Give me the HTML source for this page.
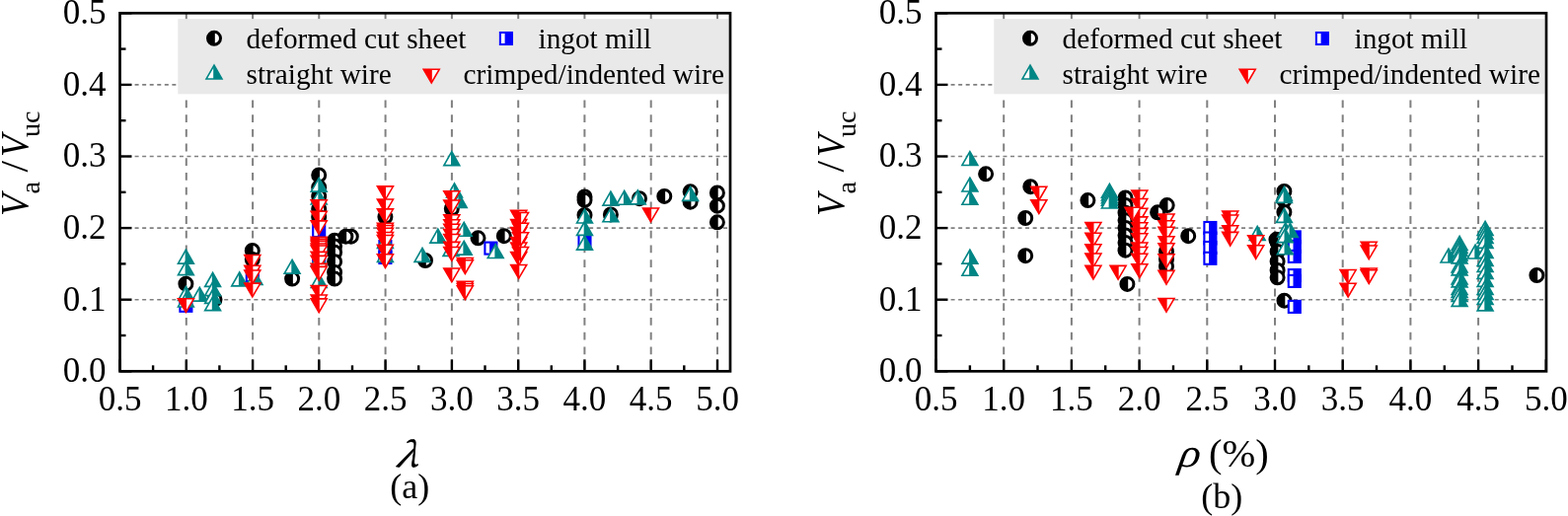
<!DOCTYPE html>
<html><head><meta charset="utf-8"><title>Va/Vuc vs lambda and rho</title>
<style>
html,body{margin:0;padding:0;background:#fff;}
body{width:1589px;height:523px;overflow:hidden;}
svg{display:block;}
text{font-family:"Liberation Serif","Times New Roman",serif;fill:#000;}
.tl{font-size:35px;}
.lg{font-size:29.3px;}
.at{font-size:42px;}
.yt{font-size:39px;}
.sub{font-size:28px;}
.pl{font-size:36px;}
.lam{font-family:"Noto Serif CJK SC","Liberation Serif",serif;}
</style></head>
<body>
<svg width="1589" height="523" viewBox="0 0 1589 523">

<defs>
 <g id="mc">
  <circle r="6.5" fill="#fff" stroke="#000000" stroke-width="3"/>
  <path d="M0.8,-6.6 A6.6,6.6 0 1 0 0.8,6.6 Z" fill="#000000"/>
 </g>
 <g id="mt">
  <polygon points="0,-6.5 7.9,7.35 -7.9,7.35" fill="#fff" stroke="#008585" stroke-width="1.65" stroke-linejoin="miter" stroke-miterlimit="4"/>
  <polygon points="-0.8,-5.1 0,-6.5 7.9,7.35 -0.8,7.35" fill="#008585"/>
 </g>
 <g id="md">
  <polygon points="0,6.5 8.04,-7.25 -8.04,-7.25" fill="#fff" stroke="#ff0000" stroke-width="1.55" stroke-linejoin="miter" stroke-miterlimit="4"/>
  <polygon points="-8.04,-7.25 0.6,-7.25 0.6,5.47 0,6.5" fill="#ff0000"/>
 </g>
 <g id="ms">
  <rect x="-6" y="-6" width="12" height="12" fill="#fff" stroke="#0000ff" stroke-width="2.1"/>
  <rect x="-1.3" y="-6" width="7.3" height="12" fill="#0000ff"/>
 </g>
</defs>
<line x1="121.5" y1="303.7" x2="740.0" y2="303.7" stroke="#808080" stroke-width="1.6" stroke-dasharray="4 3.55"/>
<line x1="121.5" y1="231.1" x2="740.0" y2="231.1" stroke="#808080" stroke-width="1.6" stroke-dasharray="4 3.55"/>
<line x1="121.5" y1="158.5" x2="740.0" y2="158.5" stroke="#808080" stroke-width="1.6" stroke-dasharray="4 3.55"/>
<line x1="121.5" y1="85.9" x2="740.0" y2="85.9" stroke="#808080" stroke-width="1.6" stroke-dasharray="4 3.55"/>
<line x1="188.8" y1="13.3" x2="188.8" y2="376.3" stroke="#808080" stroke-width="2" stroke-dasharray="7.8 6.9"/>
<line x1="256.1" y1="13.3" x2="256.1" y2="376.3" stroke="#808080" stroke-width="2" stroke-dasharray="7.8 6.9"/>
<line x1="323.3" y1="13.3" x2="323.3" y2="376.3" stroke="#808080" stroke-width="2" stroke-dasharray="7.8 6.9"/>
<line x1="390.6" y1="13.3" x2="390.6" y2="376.3" stroke="#808080" stroke-width="2" stroke-dasharray="7.8 6.9"/>
<line x1="457.9" y1="13.3" x2="457.9" y2="376.3" stroke="#808080" stroke-width="2" stroke-dasharray="7.8 6.9"/>
<line x1="525.2" y1="13.3" x2="525.2" y2="376.3" stroke="#808080" stroke-width="2" stroke-dasharray="7.8 6.9"/>
<line x1="592.4" y1="13.3" x2="592.4" y2="376.3" stroke="#808080" stroke-width="2" stroke-dasharray="7.8 6.9"/>
<line x1="659.7" y1="13.3" x2="659.7" y2="376.3" stroke="#808080" stroke-width="2" stroke-dasharray="7.8 6.9"/>
<line x1="727.0" y1="13.3" x2="727.0" y2="376.3" stroke="#808080" stroke-width="2" stroke-dasharray="7.8 6.9"/>
<rect x="180.3" y="19.1" width="558" height="76.2" fill="#e9e9e9"/>
<line x1="948.5" y1="303.7" x2="1567.0" y2="303.7" stroke="#808080" stroke-width="1.6" stroke-dasharray="4 3.55"/>
<line x1="948.5" y1="231.1" x2="1567.0" y2="231.1" stroke="#808080" stroke-width="1.6" stroke-dasharray="4 3.55"/>
<line x1="948.5" y1="158.5" x2="1567.0" y2="158.5" stroke="#808080" stroke-width="1.6" stroke-dasharray="4 3.55"/>
<line x1="948.5" y1="85.9" x2="1567.0" y2="85.9" stroke="#808080" stroke-width="1.6" stroke-dasharray="4 3.55"/>
<line x1="1017.2" y1="13.3" x2="1017.2" y2="376.3" stroke="#808080" stroke-width="2" stroke-dasharray="7.8 6.9"/>
<line x1="1085.9" y1="13.3" x2="1085.9" y2="376.3" stroke="#808080" stroke-width="2" stroke-dasharray="7.8 6.9"/>
<line x1="1154.6" y1="13.3" x2="1154.6" y2="376.3" stroke="#808080" stroke-width="2" stroke-dasharray="7.8 6.9"/>
<line x1="1223.3" y1="13.3" x2="1223.3" y2="376.3" stroke="#808080" stroke-width="2" stroke-dasharray="7.8 6.9"/>
<line x1="1292.0" y1="13.3" x2="1292.0" y2="376.3" stroke="#808080" stroke-width="2" stroke-dasharray="7.8 6.9"/>
<line x1="1360.7" y1="13.3" x2="1360.7" y2="376.3" stroke="#808080" stroke-width="2" stroke-dasharray="7.8 6.9"/>
<line x1="1429.4" y1="13.3" x2="1429.4" y2="376.3" stroke="#808080" stroke-width="2" stroke-dasharray="7.8 6.9"/>
<line x1="1498.1" y1="13.3" x2="1498.1" y2="376.3" stroke="#808080" stroke-width="2" stroke-dasharray="7.8 6.9"/>
<rect x="1007.3" y="19.1" width="558" height="76.2" fill="#e9e9e9"/>
<use href="#mc" x="188.4" y="287.7"/>
<use href="#mc" x="217.5" y="303.5"/>
<use href="#mc" x="255.8" y="254.0"/>
<use href="#mc" x="255.8" y="263.0"/>
<use href="#mc" x="296.1" y="282.6"/>
<use href="#mc" x="323.2" y="177.5"/>
<use href="#mc" x="323.2" y="190.0"/>
<use href="#mc" x="323.2" y="199.0"/>
<use href="#mc" x="323.2" y="212.0"/>
<use href="#mc" x="323.2" y="220.0"/>
<use href="#mc" x="339.1" y="243.7"/>
<use href="#mc" x="339.1" y="249.5"/>
<use href="#mc" x="339.1" y="255.8"/>
<use href="#mc" x="339.1" y="265.2"/>
<use href="#mc" x="339.1" y="275.9"/>
<use href="#mc" x="339.1" y="282.6"/>
<use href="#mc" x="355.8" y="239.7"/>
<use href="#mc" x="350.4" y="239.7"/>
<use href="#mc" x="390.4" y="219.8"/>
<use href="#mc" x="431.0" y="264.0"/>
<use href="#mc" x="457.8" y="211.5"/>
<use href="#mc" x="484.5" y="241.3"/>
<use href="#mc" x="510.8" y="239.2"/>
<use href="#mc" x="592.5" y="199.5"/>
<use href="#mc" x="592.5" y="202.8"/>
<use href="#mc" x="592.5" y="218.0"/>
<use href="#mc" x="618.9" y="217.4"/>
<use href="#mc" x="648.0" y="201.2"/>
<use href="#mc" x="673.3" y="198.9"/>
<use href="#mc" x="699.6" y="194.3"/>
<use href="#mc" x="699.6" y="204.7"/>
<use href="#mc" x="726.9" y="195.5"/>
<use href="#mc" x="726.9" y="208.7"/>
<use href="#mc" x="726.9" y="225.3"/>
<use href="#mc" x="999.1" y="176.3"/>
<use href="#mc" x="1044.3" y="189.2"/>
<use href="#mc" x="1039.2" y="221.0"/>
<use href="#mc" x="1039.2" y="259.2"/>
<use href="#mc" x="1102.4" y="203.1"/>
<use href="#mc" x="1140.5" y="200.5"/>
<use href="#mc" x="1140.5" y="208.1"/>
<use href="#mc" x="1140.5" y="215.7"/>
<use href="#mc" x="1140.5" y="223.3"/>
<use href="#mc" x="1140.5" y="230.9"/>
<use href="#mc" x="1140.5" y="238.5"/>
<use href="#mc" x="1140.5" y="246.1"/>
<use href="#mc" x="1140.5" y="253.7"/>
<use href="#mc" x="1142.4" y="287.9"/>
<use href="#mc" x="1182.7" y="208.1"/>
<use href="#mc" x="1173.1" y="215.3"/>
<use href="#mc" x="1182.0" y="255.0"/>
<use href="#mc" x="1182.0" y="263.0"/>
<use href="#mc" x="1182.0" y="270.0"/>
<use href="#mc" x="1204.2" y="239.2"/>
<use href="#mc" x="1301.4" y="194.0"/>
<use href="#mc" x="1301.4" y="203.0"/>
<use href="#mc" x="1301.4" y="215.0"/>
<use href="#mc" x="1293.4" y="242.8"/>
<use href="#mc" x="1294.6" y="245.7"/>
<use href="#mc" x="1294.6" y="255.0"/>
<use href="#mc" x="1294.6" y="265.0"/>
<use href="#mc" x="1294.6" y="274.0"/>
<use href="#mc" x="1294.6" y="281.3"/>
<use href="#mc" x="1301.5" y="304.7"/>
<use href="#mc" x="1557.4" y="279.0"/>
<use href="#ms" x="188.4" y="309.8"/>
<use href="#ms" x="255.8" y="279.0"/>
<use href="#ms" x="323.2" y="234.0"/>
<use href="#ms" x="323.2" y="263.0"/>
<use href="#ms" x="390.4" y="250.0"/>
<use href="#ms" x="390.4" y="261.0"/>
<use href="#ms" x="497.4" y="251.6"/>
<use href="#ms" x="592.5" y="243.5"/>
<use href="#ms" x="1226.4" y="231.0"/>
<use href="#ms" x="1226.4" y="241.5"/>
<use href="#ms" x="1226.4" y="251.0"/>
<use href="#ms" x="1226.4" y="261.8"/>
<use href="#ms" x="1311.8" y="240.4"/>
<use href="#ms" x="1311.8" y="250.0"/>
<use href="#ms" x="1311.8" y="259.9"/>
<use href="#ms" x="1311.8" y="279.1"/>
<use href="#ms" x="1311.8" y="284.9"/>
<use href="#ms" x="1311.8" y="310.9"/>
<use href="#mt" x="188.4" y="259.7"/>
<use href="#mt" x="188.4" y="271.3"/>
<use href="#mt" x="188.4" y="297.0"/>
<use href="#mt" x="188.4" y="303.6"/>
<use href="#mt" x="202.3" y="297.8"/>
<use href="#mt" x="215.6" y="283.0"/>
<use href="#mt" x="215.6" y="292.3"/>
<use href="#mt" x="215.6" y="300.0"/>
<use href="#mt" x="215.6" y="307.3"/>
<use href="#mt" x="242.7" y="282.5"/>
<use href="#mt" x="258.0" y="281.0"/>
<use href="#mt" x="296.1" y="269.8"/>
<use href="#mt" x="323.2" y="186.8"/>
<use href="#mt" x="323.2" y="199.6"/>
<use href="#mt" x="323.2" y="262.0"/>
<use href="#mt" x="323.2" y="284.0"/>
<use href="#mt" x="390.4" y="244.0"/>
<use href="#mt" x="390.4" y="258.0"/>
<use href="#mt" x="428.0" y="258.0"/>
<use href="#mt" x="443.8" y="238.7"/>
<use href="#mt" x="457.8" y="160.2"/>
<use href="#mt" x="460.5" y="192.5"/>
<use href="#mt" x="465.2" y="203.0"/>
<use href="#mt" x="457.0" y="252.0"/>
<use href="#mt" x="470.2" y="231.9"/>
<use href="#mt" x="470.2" y="250.8"/>
<use href="#mt" x="502.2" y="254.1"/>
<use href="#mt" x="592.5" y="218.6"/>
<use href="#mt" x="592.5" y="231.0"/>
<use href="#mt" x="592.5" y="245.7"/>
<use href="#mt" x="618.9" y="200.7"/>
<use href="#mt" x="618.9" y="217.4"/>
<use href="#mt" x="632.7" y="199.9"/>
<use href="#mt" x="646.3" y="199.5"/>
<use href="#mt" x="699.6" y="196.0"/>
<use href="#mt" x="982.9" y="160.1"/>
<use href="#mt" x="982.9" y="186.6"/>
<use href="#mt" x="982.9" y="199.9"/>
<use href="#mt" x="982.9" y="259.7"/>
<use href="#mt" x="982.9" y="271.9"/>
<use href="#mt" x="1124.4" y="192.8"/>
<use href="#mt" x="1124.4" y="195.5"/>
<use href="#mt" x="1124.4" y="198.2"/>
<use href="#mt" x="1124.4" y="200.9"/>
<use href="#mt" x="1124.4" y="203.6"/>
<use href="#mt" x="1274.2" y="236.0"/>
<use href="#mt" x="1301.4" y="196.0"/>
<use href="#mt" x="1301.4" y="198.0"/>
<use href="#mt" x="1301.4" y="218.0"/>
<use href="#mt" x="1302.7" y="232.5"/>
<use href="#mt" x="1307.4" y="233.0"/>
<use href="#mt" x="1302.3" y="238.3"/>
<use href="#mt" x="1302.3" y="250.4"/>
<use href="#mt" x="1468.0" y="258.6"/>
<use href="#mt" x="1479.1" y="246.0"/>
<use href="#mt" x="1479.1" y="249.0"/>
<use href="#mt" x="1479.1" y="252.0"/>
<use href="#mt" x="1479.1" y="256.5"/>
<use href="#mt" x="1479.1" y="259.5"/>
<use href="#mt" x="1479.1" y="268.5"/>
<use href="#mt" x="1479.1" y="271.5"/>
<use href="#mt" x="1479.1" y="280.5"/>
<use href="#mt" x="1479.1" y="283.5"/>
<use href="#mt" x="1479.1" y="291.0"/>
<use href="#mt" x="1479.1" y="294.0"/>
<use href="#mt" x="1479.1" y="298.0"/>
<use href="#mt" x="1479.1" y="303.0"/>
<use href="#mt" x="1495.1" y="254.6"/>
<use href="#mt" x="1505.1" y="231.0"/>
<use href="#mt" x="1505.1" y="235.0"/>
<use href="#mt" x="1505.1" y="239.0"/>
<use href="#mt" x="1505.1" y="244.0"/>
<use href="#mt" x="1505.1" y="254.0"/>
<use href="#mt" x="1505.1" y="262.0"/>
<use href="#mt" x="1505.1" y="268.0"/>
<use href="#mt" x="1505.1" y="275.0"/>
<use href="#mt" x="1505.1" y="283.0"/>
<use href="#mt" x="1505.1" y="291.0"/>
<use href="#mt" x="1505.1" y="296.0"/>
<use href="#mt" x="1505.1" y="301.0"/>
<use href="#mt" x="1505.1" y="307.5"/>
<use href="#md" x="188.4" y="310.0"/>
<use href="#md" x="255.8" y="265.8"/>
<use href="#md" x="255.8" y="276.5"/>
<use href="#md" x="255.8" y="281.2"/>
<use href="#md" x="255.8" y="294.4"/>
<use href="#md" x="323.2" y="210.0"/>
<use href="#md" x="323.2" y="221.5"/>
<use href="#md" x="323.2" y="231.1"/>
<use href="#md" x="323.2" y="247.6"/>
<use href="#md" x="323.2" y="249.6"/>
<use href="#md" x="323.2" y="251.6"/>
<use href="#md" x="323.2" y="254.3"/>
<use href="#md" x="323.2" y="256.3"/>
<use href="#md" x="323.2" y="262.6"/>
<use href="#md" x="323.2" y="266.6"/>
<use href="#md" x="323.2" y="274.6"/>
<use href="#md" x="323.2" y="277.6"/>
<use href="#md" x="323.2" y="296.7"/>
<use href="#md" x="323.2" y="306.3"/>
<use href="#md" x="323.2" y="310.1"/>
<use href="#md" x="390.4" y="196.1"/>
<use href="#md" x="390.4" y="209.3"/>
<use href="#md" x="390.4" y="219.1"/>
<use href="#md" x="390.4" y="233.4"/>
<use href="#md" x="390.4" y="235.7"/>
<use href="#md" x="390.4" y="238.5"/>
<use href="#md" x="390.4" y="242.8"/>
<use href="#md" x="390.4" y="245.7"/>
<use href="#md" x="390.4" y="255.4"/>
<use href="#md" x="390.4" y="265.0"/>
<use href="#md" x="457.8" y="200.9"/>
<use href="#md" x="457.8" y="210.3"/>
<use href="#md" x="457.8" y="225.0"/>
<use href="#md" x="457.8" y="230.0"/>
<use href="#md" x="457.8" y="234.5"/>
<use href="#md" x="457.8" y="239.7"/>
<use href="#md" x="457.8" y="244.8"/>
<use href="#md" x="457.8" y="252.6"/>
<use href="#md" x="457.8" y="257.8"/>
<use href="#md" x="457.8" y="279.3"/>
<use href="#md" x="471.3" y="268.7"/>
<use href="#md" x="471.3" y="271.0"/>
<use href="#md" x="471.3" y="292.5"/>
<use href="#md" x="471.3" y="294.8"/>
<use href="#md" x="471.3" y="297.0"/>
<use href="#md" x="525.7" y="220.6"/>
<use href="#md" x="525.7" y="229.7"/>
<use href="#md" x="525.7" y="237.7"/>
<use href="#md" x="525.7" y="247.7"/>
<use href="#md" x="525.7" y="253.3"/>
<use href="#md" x="525.7" y="262.7"/>
<use href="#md" x="525.7" y="275.7"/>
<use href="#md" x="527.5" y="222.7"/>
<use href="#md" x="527.5" y="233.5"/>
<use href="#md" x="527.5" y="243.0"/>
<use href="#md" x="527.5" y="257.7"/>
<use href="#md" x="659.5" y="218.2"/>
<use href="#md" x="1052.8" y="196.5"/>
<use href="#md" x="1052.8" y="210.0"/>
<use href="#md" x="1107.9" y="232.7"/>
<use href="#md" x="1107.9" y="243.5"/>
<use href="#md" x="1107.9" y="255.0"/>
<use href="#md" x="1107.9" y="264.3"/>
<use href="#md" x="1107.9" y="276.5"/>
<use href="#md" x="1133.1" y="276.6"/>
<use href="#md" x="1154.8" y="200.2"/>
<use href="#md" x="1154.8" y="208.7"/>
<use href="#md" x="1154.8" y="218.5"/>
<use href="#md" x="1154.8" y="227.1"/>
<use href="#md" x="1154.8" y="233.0"/>
<use href="#md" x="1154.8" y="238.6"/>
<use href="#md" x="1154.8" y="244.0"/>
<use href="#md" x="1154.8" y="253.3"/>
<use href="#md" x="1154.8" y="257.7"/>
<use href="#md" x="1154.8" y="264.5"/>
<use href="#md" x="1154.8" y="275.0"/>
<use href="#md" x="1148.0" y="217.4"/>
<use href="#md" x="1182.0" y="224.2"/>
<use href="#md" x="1182.0" y="231.0"/>
<use href="#md" x="1182.0" y="237.4"/>
<use href="#md" x="1182.0" y="246.9"/>
<use href="#md" x="1182.0" y="254.0"/>
<use href="#md" x="1182.0" y="265.0"/>
<use href="#md" x="1182.0" y="281.6"/>
<use href="#md" x="1182.0" y="309.7"/>
<use href="#md" x="1246.7" y="221.2"/>
<use href="#md" x="1246.7" y="225.3"/>
<use href="#md" x="1246.7" y="236.0"/>
<use href="#md" x="1246.7" y="242.6"/>
<use href="#md" x="1272.7" y="245.9"/>
<use href="#md" x="1272.7" y="255.9"/>
<use href="#md" x="1366.1" y="280.8"/>
<use href="#md" x="1366.1" y="294.5"/>
<use href="#md" x="1387.2" y="252.4"/>
<use href="#md" x="1387.2" y="256.2"/>
<use href="#md" x="1387.2" y="279.3"/>
<use href="#md" x="1387.2" y="281.0"/>
<rect x="121.5" y="13.3" width="618.5" height="363.0" fill="none" stroke="#000" stroke-width="2.7"/>
<line x1="121.5" y1="376.3" x2="133.5" y2="376.3" stroke="#000" stroke-width="2.4"/>
<line x1="121.5" y1="303.7" x2="133.5" y2="303.7" stroke="#000" stroke-width="2.4"/>
<line x1="121.5" y1="231.1" x2="133.5" y2="231.1" stroke="#000" stroke-width="2.4"/>
<line x1="121.5" y1="158.5" x2="133.5" y2="158.5" stroke="#000" stroke-width="2.4"/>
<line x1="121.5" y1="85.9" x2="133.5" y2="85.9" stroke="#000" stroke-width="2.4"/>
<line x1="121.5" y1="13.3" x2="133.5" y2="13.3" stroke="#000" stroke-width="2.4"/>
<line x1="121.5" y1="340.0" x2="127.5" y2="340.0" stroke="#000" stroke-width="2.4"/>
<line x1="121.5" y1="267.4" x2="127.5" y2="267.4" stroke="#000" stroke-width="2.4"/>
<line x1="121.5" y1="194.8" x2="127.5" y2="194.8" stroke="#000" stroke-width="2.4"/>
<line x1="121.5" y1="122.2" x2="127.5" y2="122.2" stroke="#000" stroke-width="2.4"/>
<line x1="121.5" y1="49.6" x2="127.5" y2="49.6" stroke="#000" stroke-width="2.4"/>
<line x1="121.5" y1="376.3" x2="121.5" y2="364.3" stroke="#000" stroke-width="2.4"/>
<line x1="188.8" y1="376.3" x2="188.8" y2="364.3" stroke="#000" stroke-width="2.4"/>
<line x1="256.1" y1="376.3" x2="256.1" y2="364.3" stroke="#000" stroke-width="2.4"/>
<line x1="323.3" y1="376.3" x2="323.3" y2="364.3" stroke="#000" stroke-width="2.4"/>
<line x1="390.6" y1="376.3" x2="390.6" y2="364.3" stroke="#000" stroke-width="2.4"/>
<line x1="457.9" y1="376.3" x2="457.9" y2="364.3" stroke="#000" stroke-width="2.4"/>
<line x1="525.2" y1="376.3" x2="525.2" y2="364.3" stroke="#000" stroke-width="2.4"/>
<line x1="592.4" y1="376.3" x2="592.4" y2="364.3" stroke="#000" stroke-width="2.4"/>
<line x1="659.7" y1="376.3" x2="659.7" y2="364.3" stroke="#000" stroke-width="2.4"/>
<line x1="727.0" y1="376.3" x2="727.0" y2="364.3" stroke="#000" stroke-width="2.4"/>
<line x1="155.1" y1="376.3" x2="155.1" y2="370.3" stroke="#000" stroke-width="2.4"/>
<line x1="222.4" y1="376.3" x2="222.4" y2="370.3" stroke="#000" stroke-width="2.4"/>
<line x1="289.7" y1="376.3" x2="289.7" y2="370.3" stroke="#000" stroke-width="2.4"/>
<line x1="357.0" y1="376.3" x2="357.0" y2="370.3" stroke="#000" stroke-width="2.4"/>
<line x1="424.2" y1="376.3" x2="424.2" y2="370.3" stroke="#000" stroke-width="2.4"/>
<line x1="491.5" y1="376.3" x2="491.5" y2="370.3" stroke="#000" stroke-width="2.4"/>
<line x1="558.8" y1="376.3" x2="558.8" y2="370.3" stroke="#000" stroke-width="2.4"/>
<line x1="626.1" y1="376.3" x2="626.1" y2="370.3" stroke="#000" stroke-width="2.4"/>
<line x1="693.3" y1="376.3" x2="693.3" y2="370.3" stroke="#000" stroke-width="2.4"/>
<text x="107.5" y="387.2" text-anchor="end" class="tl">0.0</text>
<text x="107.5" y="314.6" text-anchor="end" class="tl">0.1</text>
<text x="107.5" y="242.0" text-anchor="end" class="tl">0.2</text>
<text x="107.5" y="169.4" text-anchor="end" class="tl">0.3</text>
<text x="107.5" y="96.8" text-anchor="end" class="tl">0.4</text>
<text x="107.5" y="24.2" text-anchor="end" class="tl">0.5</text>
<text x="121.5" y="415.5" text-anchor="middle" class="tl">0.5</text>
<text x="188.8" y="415.5" text-anchor="middle" class="tl">1.0</text>
<text x="256.1" y="415.5" text-anchor="middle" class="tl">1.5</text>
<text x="323.3" y="415.5" text-anchor="middle" class="tl">2.0</text>
<text x="390.6" y="415.5" text-anchor="middle" class="tl">2.5</text>
<text x="457.9" y="415.5" text-anchor="middle" class="tl">3.0</text>
<text x="525.2" y="415.5" text-anchor="middle" class="tl">3.5</text>
<text x="592.4" y="415.5" text-anchor="middle" class="tl">4.0</text>
<text x="659.7" y="415.5" text-anchor="middle" class="tl">4.5</text>
<text x="727.0" y="415.5" text-anchor="middle" class="tl">5.0</text>
<text transform="translate(27.9,218.9) rotate(-90) scale(0.94,1)" font-size="39" font-style="italic">V</text>
<text transform="translate(40.2,196.5) rotate(-90)" font-size="28">a</text>
<text transform="translate(28.0,174.5) rotate(-90)" font-size="41">/</text>
<text transform="translate(27.9,158.9) rotate(-90) scale(0.94,1)" font-size="39" font-style="italic">V</text>
<text transform="translate(40.2,139.0) rotate(-90)" font-size="28">uc</text>
<use href="#mc" x="217.0" y="38.8"/>
<text x="249.5" y="48.7" class="lg">deformed cut sheet</text>
<use href="#ms" x="512.9" y="39.0"/>
<text x="545.5" y="48.9" class="lg">ingot mill</text>
<use href="#mt" x="217.0" y="72.6"/>
<text x="249.5" y="84.6" class="lg">straight wire</text>
<use href="#md" x="437.2" y="77.5"/>
<text x="469.5" y="84.6" class="lg">crimped/indented wire</text>
<rect x="948.5" y="13.3" width="618.5" height="363.0" fill="none" stroke="#000" stroke-width="2.7"/>
<line x1="948.5" y1="376.3" x2="960.5" y2="376.3" stroke="#000" stroke-width="2.4"/>
<line x1="948.5" y1="303.7" x2="960.5" y2="303.7" stroke="#000" stroke-width="2.4"/>
<line x1="948.5" y1="231.1" x2="960.5" y2="231.1" stroke="#000" stroke-width="2.4"/>
<line x1="948.5" y1="158.5" x2="960.5" y2="158.5" stroke="#000" stroke-width="2.4"/>
<line x1="948.5" y1="85.9" x2="960.5" y2="85.9" stroke="#000" stroke-width="2.4"/>
<line x1="948.5" y1="13.3" x2="960.5" y2="13.3" stroke="#000" stroke-width="2.4"/>
<line x1="948.5" y1="340.0" x2="954.5" y2="340.0" stroke="#000" stroke-width="2.4"/>
<line x1="948.5" y1="267.4" x2="954.5" y2="267.4" stroke="#000" stroke-width="2.4"/>
<line x1="948.5" y1="194.8" x2="954.5" y2="194.8" stroke="#000" stroke-width="2.4"/>
<line x1="948.5" y1="122.2" x2="954.5" y2="122.2" stroke="#000" stroke-width="2.4"/>
<line x1="948.5" y1="49.6" x2="954.5" y2="49.6" stroke="#000" stroke-width="2.4"/>
<line x1="948.5" y1="376.3" x2="948.5" y2="364.3" stroke="#000" stroke-width="2.4"/>
<line x1="1017.2" y1="376.3" x2="1017.2" y2="364.3" stroke="#000" stroke-width="2.4"/>
<line x1="1085.9" y1="376.3" x2="1085.9" y2="364.3" stroke="#000" stroke-width="2.4"/>
<line x1="1154.6" y1="376.3" x2="1154.6" y2="364.3" stroke="#000" stroke-width="2.4"/>
<line x1="1223.3" y1="376.3" x2="1223.3" y2="364.3" stroke="#000" stroke-width="2.4"/>
<line x1="1292.0" y1="376.3" x2="1292.0" y2="364.3" stroke="#000" stroke-width="2.4"/>
<line x1="1360.7" y1="376.3" x2="1360.7" y2="364.3" stroke="#000" stroke-width="2.4"/>
<line x1="1429.4" y1="376.3" x2="1429.4" y2="364.3" stroke="#000" stroke-width="2.4"/>
<line x1="1498.1" y1="376.3" x2="1498.1" y2="364.3" stroke="#000" stroke-width="2.4"/>
<line x1="1566.8" y1="376.3" x2="1566.8" y2="364.3" stroke="#000" stroke-width="2.4"/>
<line x1="982.9" y1="376.3" x2="982.9" y2="370.3" stroke="#000" stroke-width="2.4"/>
<line x1="1051.5" y1="376.3" x2="1051.5" y2="370.3" stroke="#000" stroke-width="2.4"/>
<line x1="1120.2" y1="376.3" x2="1120.2" y2="370.3" stroke="#000" stroke-width="2.4"/>
<line x1="1189.0" y1="376.3" x2="1189.0" y2="370.3" stroke="#000" stroke-width="2.4"/>
<line x1="1257.7" y1="376.3" x2="1257.7" y2="370.3" stroke="#000" stroke-width="2.4"/>
<line x1="1326.3" y1="376.3" x2="1326.3" y2="370.3" stroke="#000" stroke-width="2.4"/>
<line x1="1395.0" y1="376.3" x2="1395.0" y2="370.3" stroke="#000" stroke-width="2.4"/>
<line x1="1463.8" y1="376.3" x2="1463.8" y2="370.3" stroke="#000" stroke-width="2.4"/>
<line x1="1532.5" y1="376.3" x2="1532.5" y2="370.3" stroke="#000" stroke-width="2.4"/>
<text x="934.5" y="387.2" text-anchor="end" class="tl">0.0</text>
<text x="934.5" y="314.6" text-anchor="end" class="tl">0.1</text>
<text x="934.5" y="242.0" text-anchor="end" class="tl">0.2</text>
<text x="934.5" y="169.4" text-anchor="end" class="tl">0.3</text>
<text x="934.5" y="96.8" text-anchor="end" class="tl">0.4</text>
<text x="934.5" y="24.2" text-anchor="end" class="tl">0.5</text>
<text x="948.5" y="415.5" text-anchor="middle" class="tl">0.5</text>
<text x="1017.2" y="415.5" text-anchor="middle" class="tl">1.0</text>
<text x="1085.9" y="415.5" text-anchor="middle" class="tl">1.5</text>
<text x="1154.6" y="415.5" text-anchor="middle" class="tl">2.0</text>
<text x="1223.3" y="415.5" text-anchor="middle" class="tl">2.5</text>
<text x="1292.0" y="415.5" text-anchor="middle" class="tl">3.0</text>
<text x="1360.7" y="415.5" text-anchor="middle" class="tl">3.5</text>
<text x="1429.4" y="415.5" text-anchor="middle" class="tl">4.0</text>
<text x="1498.1" y="415.5" text-anchor="middle" class="tl">4.5</text>
<text x="1566.8" y="415.5" text-anchor="middle" class="tl">5.0</text>
<text transform="translate(854.9,218.9) rotate(-90) scale(0.94,1)" font-size="39" font-style="italic">V</text>
<text transform="translate(867.2,196.5) rotate(-90)" font-size="28">a</text>
<text transform="translate(855.0,174.5) rotate(-90)" font-size="41">/</text>
<text transform="translate(854.9,158.9) rotate(-90) scale(0.94,1)" font-size="39" font-style="italic">V</text>
<text transform="translate(867.2,139.0) rotate(-90)" font-size="28">uc</text>
<use href="#mc" x="1044.0" y="38.8"/>
<text x="1076.5" y="48.7" class="lg">deformed cut sheet</text>
<use href="#ms" x="1339.9" y="39.0"/>
<text x="1372.5" y="48.9" class="lg">ingot mill</text>
<use href="#mt" x="1044.0" y="72.6"/>
<text x="1076.5" y="84.6" class="lg">straight wire</text>
<use href="#md" x="1264.2" y="77.5"/>
<text x="1296.5" y="84.6" class="lg">crimped/indented wire</text>
<g transform="translate(400.5,472.6) scale(1.1,1) skewX(-9)"><text x="0" y="0" font-size="34.5" font-style="italic" class="lam" stroke="#000" stroke-width="0.7">λ</text></g>
<text x="415.2" y="505" text-anchor="middle" class="pl">(a)</text>
<g transform="translate(1193.5,473) scale(1.1,1) skewX(-8)"><text x="0" y="0" font-size="41" font-style="italic">ρ</text></g>
<text x="1225" y="473" font-size="40.5">(%)</text>
<text x="1238.2" y="515.4" text-anchor="middle" class="pl">(b)</text>
</svg>
</body></html>
